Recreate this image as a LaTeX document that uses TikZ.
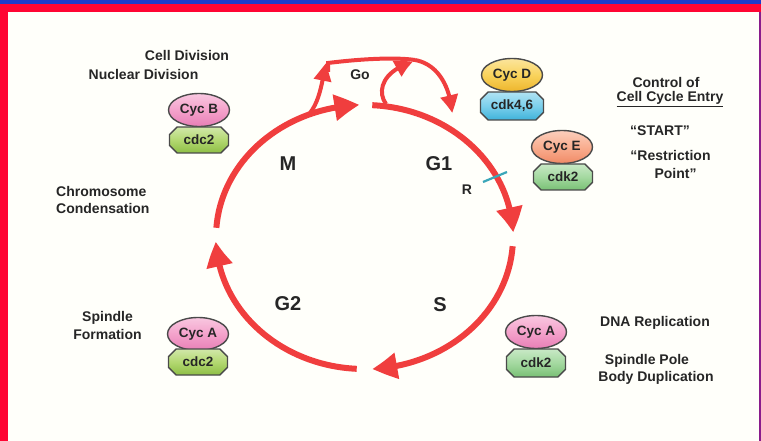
\documentclass[tikz,border=0pt]{standalone}
\usepackage{fontspec}
\setmainfont{Liberation Sans}
\usetikzlibrary{arrows.meta,bending,shapes.misc,shapes.geometric}
\definecolor{cyclered}{HTML}{F03E3E}
\definecolor{txt}{HTML}{262626}
\definecolor{outl}{HTML}{4A4A4A}
\definecolor{bgc}{HTML}{FFFFFA}
\definecolor{topblue}{HTML}{1C3CCB}
\definecolor{frame}{HTML}{FF0533}
\definecolor{rightline}{HTML}{8A1C8C}
\definecolor{tickc}{HTML}{3AA6B9}
\definecolor{pinkc}{HTML}{F4A2CB}
\definecolor{pinkd}{HTML}{E77FB6}
\definecolor{limec}{HTML}{B3D871}
\definecolor{limed}{HTML}{8DBE45}
\definecolor{yellc}{HTML}{F9D35C}
\definecolor{yelld}{HTML}{EDB52C}
\definecolor{bluec}{HTML}{7CD0EC}
\definecolor{blued}{HTML}{3FB2DA}
\definecolor{salmc}{HTML}{F9AE90}
\definecolor{salmd}{HTML}{F08A66}
\definecolor{grnc}{HTML}{A4D9A0}
\definecolor{grnd}{HTML}{79C075}
\begin{document}
\begin{tikzpicture}[x=1pt,y=-1pt,
  phasearc/.style={draw=cyclered, line width=6pt, -{Triangle[length=25pt,width=25pt,bend]}},
  goarrow/.style={draw=cyclered, line width=4pt, -{Triangle[length=18pt,width=17pt,bend]}},
  goline/.style={draw=cyclered, line width=4pt},
  lbl/.style={font=\bfseries\fontsize{14}{17}\selectfont, text=txt, align=center, inner sep=0pt},
  phase/.style={font=\bfseries\fontsize{20}{22}\selectfont, text=txt, inner sep=0pt},
  cycnode/.style={ellipse, draw=outl, line width=1.4pt, minimum width=61pt, minimum height=33pt, inner sep=0pt, font=\bfseries\fontsize{13.5}{15}\selectfont, text=txt},
  cdknode/.style={chamfered rectangle, chamfered rectangle xsep=4pt, draw=outl, line width=1.4pt, minimum width=59pt, minimum height=26pt, inner sep=0pt, font=\bfseries\fontsize{13.5}{15}\selectfont, text=txt}
]
\useasboundingbox (0,0) rectangle (761,441);
% background and frame
\fill[bgc] (0,0) rectangle (761,441);
\fill[topblue] (0,0) rectangle (761,4.5);
\fill[frame] (0,4.5) rectangle (761,12);
\fill[frame] (0,4.5) rectangle (8,441);
\fill[rightline] (758.5,12) rectangle (761,441);

% cycle arcs
\coordinate (C) at (364.5,237);
\draw[phasearc] (C) ++(184:148.5 and 132) arc[start angle=184, end angle=268, x radius=148.5, y radius=132];
\draw[phasearc] (C) ++(273:148.5 and 132) arc[start angle=273, end angle=358, x radius=148.5, y radius=132];
\draw[phasearc] (C) ++(4:148.5 and 132) arc[start angle=4, end angle=87, x radius=148.5, y radius=132];
\draw[phasearc] (C) ++(93:148.5 and 132) arc[start angle=93, end angle=178, x radius=148.5, y radius=132];

% Go branch
\coordinate (b0) at (310,113);
\coordinate (b1) at (326,63);
\draw[goarrow] (b0) .. controls (320,100) and (322,82) .. (b1);
\coordinate (t0) at (328,72);
\coordinate (t1) at (452,113);
\draw[goline] (t0) -- (328,63) .. controls (360,59) and (395,57) .. (415,60);
\draw[goarrow] (415,60) .. controls (437,64) and (450,85) .. (t1);
\coordinate (l0) at (386,104);
\coordinate (l1) at (413,62);
\draw[goarrow] (l0) .. controls (376,90) and (384,70) .. (l1);

% restriction tick
\coordinate (r0) at (483,182);
\coordinate (r1) at (507,172);
\draw[tickc, line width=2.2pt] (r0) -- (r1);

% phase labels
\node[phase] (M) at (288,164) {M};
\node[phase] (G1) at (439,164) {G1};
\node[phase] (G2) at (288,304) {G2};
\node[phase] (S) at (440,305) {S};
\node[lbl] (Go) at (360,75) {Go};
\node[lbl] (R) at (467,190) {R};

% protein pairs
\node[cycnode, shading=axis, top color=pinkc!60!white, bottom color=pinkd, middle color=pinkc] (cycB) at (199,110) {Cyc B};
\node[cdknode, shading=axis, top color=limec!60!white, bottom color=limed, middle color=limec] (cdc2a) at (199,140) {cdc2};
\node[cycnode, shading=axis, top color=yellc!60!white, bottom color=yelld, middle color=yellc] (cycD) at (512,75) {Cyc D};
\node[cdknode, minimum width=63pt, minimum height=28pt, shading=axis, top color=bluec!60!white, bottom color=blued, middle color=bluec] (cdk46) at (512,106) {cdk4,6};
\node[cycnode, shading=axis, top color=salmc!60!white, bottom color=salmd, middle color=salmc] (cycE) at (562,147) {Cyc E};
\node[cdknode, shading=axis, top color=grnc!60!white, bottom color=grnd, middle color=grnc] (cdk2a) at (563,177) {cdk2};
\node[cycnode, shading=axis, top color=pinkc!60!white, bottom color=pinkd, middle color=pinkc] (cycA1) at (198,334) {Cyc A};
\node[cdknode, shading=axis, top color=limec!60!white, bottom color=limed, middle color=limec] (cdc2b) at (198,362) {cdc2};
\node[cycnode, shading=axis, top color=pinkc!60!white, bottom color=pinkd, middle color=pinkc] (cycA2) at (536,332) {Cyc A};
\node[cdknode, minimum height=28pt, shading=axis, top color=grnc!60!white, bottom color=grnd, middle color=grnc] (cdk2b) at (536,363) {cdk2};

% text labels
\node[lbl] (celldiv) at (187,55) {Cell Division};
\node[lbl] (nucdiv) at (143.5,74) {Nuclear Division};
\node[lbl, anchor=west, align=left] (chrom) at (56,199.5) {Chromosome\\Condensation};
\node[lbl] (spindle) at (107.5,325) {Spindle\\[1pt]Formation};
\node[lbl] (control) at (666,82) {Control of};
\node[lbl] (entry) at (670,99) {\underline{Cell Cycle Entry}};
\node[lbl] (start) at (660,131) {“START”};
\node[lbl] (restr) at (670.5,155) {“Restriction};
\node[lbl] (point) at (675.5,173) {Point”};
\node[lbl] (dna) at (655,323) {DNA Replication};
\node[lbl] (spole) at (647,361) {Spindle Pole};
\node[lbl] (body) at (656,378) {Body Duplication};
\end{tikzpicture}
\end{document}
